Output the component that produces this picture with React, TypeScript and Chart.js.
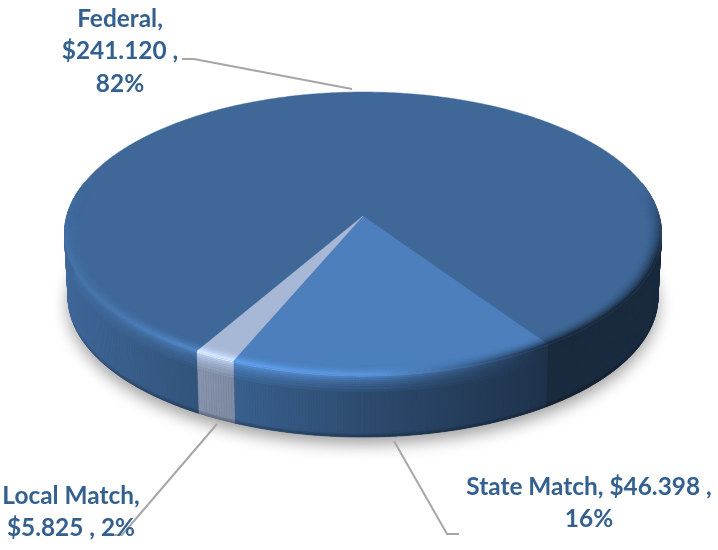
import React, { useEffect, useRef } from "react";
import { Chart, registerables } from "chart.js";

Chart.register(...registerables);

const categories = ["Federal", "State Match", "Local Match"];
const values = [241.12, 46.398, 5.825];
const percents = [82, 16, 2];
const sliceColors = ["#3f6899", "#4c7fbc", "#a7b7d6"];
const ROTATION_DEG = 210;

// text lines are built from the data, broken as in the reference
const money = (i: number) => "$" + values[i].toFixed(3) + " ,";
const labelLines = [
  [categories[0] + ",", money(0), percents[0] + "%"],
  [categories[2] + ",", money(2) + " " + percents[2] + "%"],
  [categories[1] + ", " + money(1), percents[1] + "%"],
];
const labelAnchors = [
  { x: 120, y: 19 },
  { x: 71, y: 496 },
  { x: 589, y: 487 },
];
const leaders = [
  [[182, 59], [194, 59], [352, 89]],
  [[217, 424], [122, 535], [111, 535]],
  [[394, 441], [447, 534], [459, 534]],
];

// perspective of the disc
const CX = 363, CY = 216, A = 139.3, B = 296.2, K = 0.1237, DEPTH = 64, SHRINK = 0.988;

type RGB = number[];
const hex = (h: string): RGB => [1, 3, 5].map((i) => parseInt(h.slice(i, i + 2), 16));
const mix = (a: RGB, b: RGB, t: number): RGB => a.map((c, i) => c + (b[i] - c) * t);
const css = (c: RGB) => `rgb(${c.map((v) => Math.round(Math.min(255, Math.max(0, v)))).join(",")})`;
const curve = (stops: number[][], x: number) => {
  if (x <= stops[0][0]) return stops[0][1];
  for (let i = 1; i < stops.length; i++) {
    if (x <= stops[i][0]) {
      const t = (x - stops[i - 1][0]) / (stops[i][0] - stops[i - 1][0]);
      return stops[i - 1][1] + (stops[i][1] - stops[i - 1][1]) * t;
    }
  }
  return stops[stops.length - 1][1];
};
const sideLight = [[63, 1.0], [215, 0.78], [400, 0.55], [547, 0.4], [660, 0.4]];
const peakLight = [[63, 0.35], [180, 1], [380, 0.8], [480, 0.3], [540, 0], [660, 0]];

const proj = (theta: number, r: number, z: number) => {
  const u = r * Math.cos(theta), v = r * Math.sin(theta);
  const w = 1 - K * v;
  const s = 1 - (1 - SHRINK) * (z / DEPTH);
  return [CX + (B * u / w) * s, CY + (A * v / w) * s + z];
};
const quad = (ctx: CanvasRenderingContext2D, p: number[][], color: string) => {
  ctx.beginPath();
  ctx.moveTo(p[0][0], p[0][1]);
  for (let i = 1; i < p.length; i++) ctx.lineTo(p[i][0], p[i][1]);
  ctx.closePath();
  ctx.fillStyle = color;
  ctx.strokeStyle = color;
  ctx.lineWidth = 0.6;
  ctx.fill();
  ctx.stroke();
};

const colorsAt = (base: RGB, x: number) => {
  const side = base.map((c) => c * curve(sideLight, x));
  const peak = mix(side, base.map((c) => c * 1.3), curve(peakLight, x));
  return { side, peak };
};

const pie3d = {
  id: "pie3d",
  beforeDatasetDraw(chart: any) {
    const ctx: CanvasRenderingContext2D = chart.ctx;
    const arcs = chart.getDatasetMeta(0).data;
    const step = Math.PI / 360;
    ctx.save();

    // ground shadow
    ctx.save();
    ctx.shadowColor = "rgba(0,0,0,0.38)";
    ctx.shadowBlur = 16;
    ctx.shadowOffsetY = 7;
    ctx.beginPath();
    for (let t = 0; t < Math.PI * 2; t += step) {
      const p = proj(t, 1, DEPTH);
      ctx.lineTo(p[0], p[1]);
    }
    ctx.closePath();
    ctx.fillStyle = "#2a4568";
    ctx.fill();
    ctx.restore();

    // side wall
    arcs.forEach((arc: any, i: number) => {
      const base = hex(sliceColors[i]);
      for (let t = arc.startAngle; t < arc.endAngle; t += step) {
        const t2 = Math.min(t + step, arc.endAngle);
        const sv = Math.sin(t);
        if (sv < -0.25) continue;
        const x = proj(t, 1, 0)[0];
        const { side, peak } = colorsAt(base, x);
        const edge = Math.min(1, Math.max(0, (sv - 0.25) / 0.4));
        const rows = [0, 2, 4, 6, 8, 10, 12, 15, 18, DEPTH - 5, DEPTH - 3, DEPTH - 1.5, DEPTH];
        for (let r = 0; r < rows.length - 1; r++) {
          const z = rows[r], z2 = rows[r + 1];
          let c: RGB;
          if (z < 18) {
            const q = z / 18;
            c = mix(peak, side, Math.sqrt(q));
          } else if (z >= DEPTH - 5) {
            c = side.map((v) => v * (1 - 0.3 * edge * ((z - (DEPTH - 5)) / 5)));
          } else c = side;
          quad(ctx, [proj(t, 1, z), proj(t2, 1, z), proj(t2, 1, z2), proj(t, 1, z2)], css(c));
        }
      }
    });

    // top face
    arcs.forEach((arc: any, i: number) => {
      ctx.beginPath();
      ctx.moveTo(CX, CY);
      for (let t = arc.startAngle; t < arc.endAngle; t += step) {
        const p = proj(t, 1, 0);
        ctx.lineTo(p[0], p[1]);
      }
      const e = proj(arc.endAngle, 1, 0);
      ctx.lineTo(e[0], e[1]);
      ctx.closePath();
      ctx.fillStyle = sliceColors[i];
      ctx.strokeStyle = sliceColors[i];
      ctx.lineWidth = 0.5;
      ctx.fill();
      ctx.stroke();
    });

    // bevel ring
    arcs.forEach((arc: any, i: number) => {
      const base = hex(sliceColors[i]);
      const N = 8;
      const R0 = 0.948;
      for (let t = arc.startAngle; t < arc.endAngle; t += step) {
        const t2 = Math.min(t + step, arc.endAngle);
        const v = Math.sin(t);
        const w = Math.min(1, Math.max(0, (v + 0.2) / 0.5));
        if (w <= 0) continue;
        const x = proj(t, 1, 0)[0];
        const { peak } = colorsAt(base, x);
        for (let n = 0; n < N; n++) {
          const r1 = R0 + ((1 - R0) * n) / N, r2 = R0 + ((1 - R0) * (n + 1)) / N;
          const s = (n + 1) / N;
          const c = mix(base, peak, s * s * w);
          quad(ctx, [proj(t, r1, 0), proj(t2, r1, 0), proj(t2, r2, 0), proj(t, r2, 0)], css(c));
        }
      }
    });
    ctx.restore();
    return false;
  },
  afterDraw(chart: any) {
    const ctx: CanvasRenderingContext2D = chart.ctx;
    ctx.save();
    ctx.strokeStyle = "#a6a6a6";
    ctx.lineWidth = 2;
    leaders.forEach((pts) => {
      ctx.beginPath();
      pts.forEach((p, i) => (i ? ctx.lineTo(p[0], p[1]) : ctx.moveTo(p[0], p[1])));
      ctx.stroke();
    });
    ctx.fillStyle = "#33608f";
    ctx.font = "bold 24.4px Lato";
    ctx.textAlign = "center";
    ctx.textBaseline = "middle";
    labelLines.forEach((lines, i) => {
      lines.forEach((line, j) => {
        ctx.fillText(line, labelAnchors[i].x, labelAnchors[i].y + j * 32.5);
      });
    });
    ctx.restore();
  },
};

export default function App() {
  const ref = useRef<HTMLCanvasElement>(null);
  useEffect(() => {
    const chart = new Chart(ref.current!, {
      type: "pie",
      data: {
        labels: categories,
        datasets: [{ data: values, backgroundColor: sliceColors, borderWidth: 0 }],
      },
      options: {
        responsive: false,
        animation: false,
        rotation: ROTATION_DEG,
        plugins: { legend: { display: false }, tooltip: { enabled: false }, title: { display: false } },
      },
      plugins: [pie3d],
    } as any);
    return () => chart.destroy();
  }, []);
  return (
    <div style={{ position: "absolute", left: 0, top: 0, width: 718, height: 550, background: "#fff" }}>
      <canvas ref={ref} width={718} height={550} style={{ display: "block" }} />
    </div>
  );
}
